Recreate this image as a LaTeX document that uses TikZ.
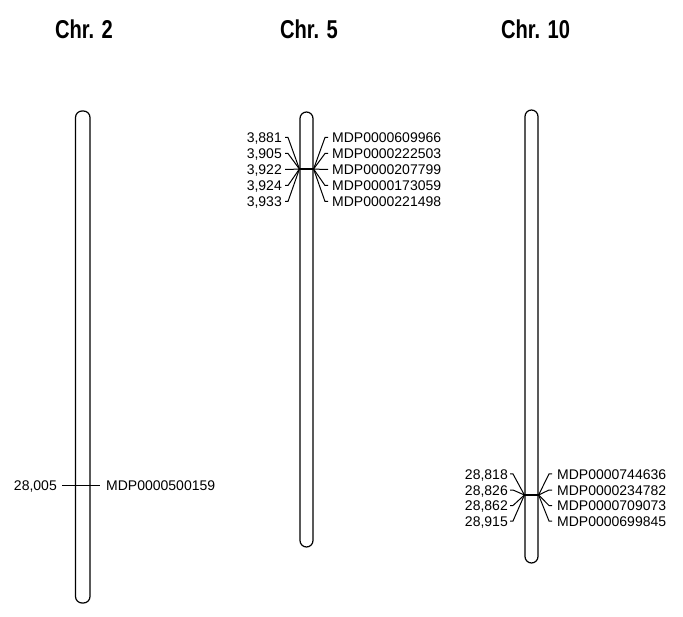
\documentclass[tikz,border=0pt]{standalone}
\usepackage{fontspec}
\setmainfont{Liberation Sans}
\newfontfamily\titlefont{Liberation Sans Bold}[FakeStretch=0.78]
\begin{document}
\begin{tikzpicture}[x=1pt,y=-1pt,
  chrom/.style={draw, line width=1.2pt, rounded corners=6.5pt, inner sep=0pt},
  lbl/.style={inner sep=0pt, font=\fontsize{14}{16}\selectfont, text height=10pt, text depth=0pt},
  ttl/.style={inner sep=0pt, font=\titlefont\fontsize{25.8}{28}\selectfont},
  fan/.style={line width=1pt},
  mark line/.style={line width=2.6pt}]
\useasboundingbox (0,0) rectangle (683,617);
% titles
\node[ttl, anchor=base] (t2) at (84,38.5) {Chr. 2};
\node[ttl, anchor=base] (t5) at (309,38.5) {Chr. 5};
\node[ttl, anchor=base] (t10) at (535.5,38.5) {Chr. 10};
% chromosomes
\node[chrom, minimum width=14.5pt, minimum height=492pt] (c2) at (82.75,357) {};
\node[chrom, minimum width=13pt, minimum height=435pt] (c5) at (306.5,329.5) {};
\node[chrom, minimum width=13pt, minimum height=453pt] (c10) at (531.5,336.5) {};
% Chr 2
\node[lbl, anchor=east] (l2) at (57,485) {28,005};
\node[lbl, anchor=west] (r2) at (106,485) {MDP0000500159};
\draw[fan] ([xshift=5pt]l2.east) -- ([xshift=-6pt]r2.west);
% Chr 5
\coordinate (m5) at (0,169);
\foreach \i/\y/\a/\b in {1/137.5/{3,881}/MDP0000609966, 2/153.5/{3,905}/MDP0000222503, 3/169.5/{3,922}/MDP0000207799, 4/185.5/{3,924}/MDP0000173059, 5/201.5/{3,933}/MDP0000221498}{
  \node[lbl, anchor=east] (l5\i) at (282,\y) {\a};
  \node[lbl, anchor=west] (r5\i) at (332,\y) {\b};
  \draw[fan] ([xshift=3pt]l5\i.east) -- ++(3,0) -- (c5.west |- m5);
  \draw[fan] ([xshift=-4pt]r5\i.west) -- ++(-3,0) -- (c5.east |- m5);
}
\draw[mark line] (c5.west |- m5) -- (c5.east |- m5);
% Chr 10
\coordinate (m10) at (0,495);
\foreach \i/\y/\a/\b in {1/474/{28,818}/MDP0000744636, 2/490/{28,826}/MDP0000234782, 3/505.5/{28,862}/MDP0000709073, 4/521/{28,915}/MDP0000699845}{
  \node[lbl, anchor=east] (l10\i) at (508,\y) {\a};
  \node[lbl, anchor=west] (r10\i) at (557,\y) {\b};
  \draw[fan] ([xshift=2pt]l10\i.east) -- ++(3,0) -- (c10.west |- m10);
  \draw[fan] ([xshift=-5pt]r10\i.west) -- ++(-3,0) -- (c10.east |- m10);
}
\draw[mark line] (c10.west |- m10) -- (c10.east |- m10);
\end{tikzpicture}
\end{document}
